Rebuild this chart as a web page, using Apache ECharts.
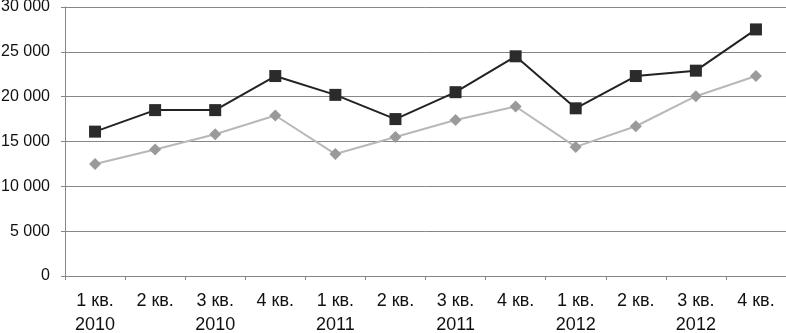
<!DOCTYPE html>
<html>
<head>
<meta charset="utf-8">
<script src="https://cdn.jsdelivr.net/npm/echarts@6/dist/echarts.min.js"></script>
<style>
  html, body { margin: 0; padding: 0; background: #fff; }
  #chart { width: 786px; height: 333px; }
</style>
</head>
<body>
<div id="chart"></div>
<script>
const quarters = ["1 кв.", "2 кв.", "3 кв.", "4 кв.", "1 кв.", "2 кв.", "3 кв.", "4 кв.", "1 кв.", "2 кв.", "3 кв.", "4 кв."];
const years = ["2010", "", "2010", "", "2011", "", "2011", "", "2012", "", "2012", ""];
const darkSeries = [16100, 18500, 18500, 22300, 20200, 17500, 20500, 24500, 18700, 22300, 22900, 27500];
const lightSeries = [12500, 14100, 15800, 17900, 13600, 15500, 17400, 18900, 14400, 16700, 20050, 22300];
const yTicks = [0, 5000, 10000, 15000, 20000, 25000, 30000];

const categories = quarters.map((q, i) => (years[i] ? q + "\n" + years[i] : q));
const fmt = (v) => String(v).replace(/\B(?=(\d{3})+(?!\d))/g, " ");
const font = "Liberation Sans, Arial, sans-serif";

const chart = echarts.init(document.getElementById("chart"));
chart.setOption({
  animation: false,
  grid: { left: 65, right: 0, top: 7, bottom: 57, outerBoundsMode: "none", containLabel: false },
  xAxis: {
    type: "category",
    data: categories,
    boundaryGap: true,
    axisLine: { lineStyle: { color: "#868686", width: 1 } },
    axisTick: { show: true, length: 4, lineStyle: { color: "#868686" } },
    axisLabel: {
      interval: 0,
      margin: 13,
      color: "#111",
      fontFamily: font,
      fontSize: 18,
      lineHeight: 24,
    },
  },
  yAxis: {
    type: "value",
    min: yTicks[0],
    max: yTicks[yTicks.length - 1],
    interval: 5000,
    axisLine: { show: true, lineStyle: { color: "#868686", width: 1 } },
    axisTick: { show: true, length: 4, lineStyle: { color: "#868686" } },
    splitLine: { lineStyle: { color: "#868686", width: 1 } },
    axisLabel: {
      margin: 15,
      color: "#111",
      fontFamily: font,
      fontSize: 16,
      formatter: fmt,
    },
  },
  series: [
    {
      name: "light",
      type: "line",
      data: lightSeries,
      symbol: "diamond",
      symbolSize: 12,
      lineStyle: { color: "#b8b8b8", width: 2 },
      itemStyle: { color: "#9a9a9a" },
    },
    {
      name: "dark",
      type: "line",
      data: darkSeries,
      symbol: "rect",
      symbolSize: 12,
      lineStyle: { color: "#222", width: 2 },
      itemStyle: { color: "#2b2b2b" },
    },
  ],
});
</script>
</body>
</html>
